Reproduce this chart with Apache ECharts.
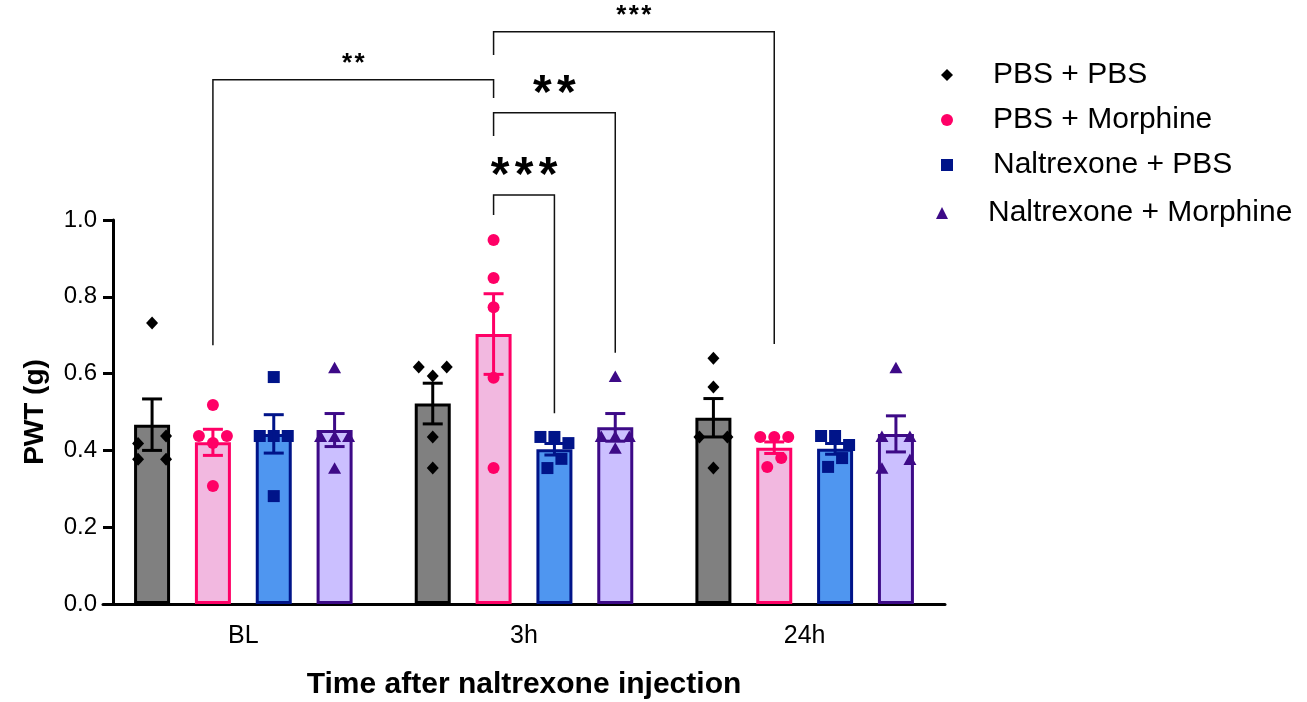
<!DOCTYPE html>
<html>
<head>
<meta charset="utf-8">
<script src="https://cdn.jsdelivr.net/npm/echarts@6/dist/echarts.min.js"></script>
<style>html,body{margin:0;padding:0;background:#fff}#chart{width:1307px;height:702px}</style>
</head>
<body>
<div id="chart"></div>
<script>
// ---------------- data ----------------
const categories = ['BL', '3h', '24h'];
const groupNames = ['PBS + PBS', 'PBS + Morphine', 'Naltrexone + PBS', 'Naltrexone + Morphine'];
const yTickValues = [0, 0.2, 0.4, 0.6, 0.8, 1.0];

// bar heights (mean) per category
const meanPbsPbs = [0.467, 0.522, 0.485];
const meanPbsMor = [0.421, 0.703, 0.407];
const meanNalPbs = [0.443, 0.403, 0.404];
const meanNalMor = [0.453, 0.460, 0.443];

// SEM per category
const semPbsPbs = [0.067, 0.053, 0.050];
const semPbsMor = [0.034, 0.105, 0.015];
const semNalPbs = [0.050, 0.015, 0.014];
const semNalMor = [0.043, 0.036, 0.047];

// individual animals per category
const ptsPbsPbs = [[0.732, 0.418, 0.4375, 0.377, 0.377], [0.617, 0.594, 0.617, 0.435, 0.354], [0.64, 0.565, 0.435, 0.435, 0.354]];
const ptsPbsMor = [[0.518, 0.4375, 0.419, 0.4375, 0.307], [0.948, 0.849, 0.773, 0.589, 0.354], [0.435, 0.435, 0.435, 0.357, 0.38]];
const ptsNalPbs = [[0.591, 0.4375, 0.4375, 0.4375, 0.281], [0.435, 0.435, 0.419, 0.354, 0.378], [0.4375, 0.4375, 0.414, 0.357, 0.38]];
const ptsNalMor = [[0.614, 0.435, 0.435, 0.435, 0.352], [0.591, 0.435, 0.435, 0.435, 0.404], [0.614, 0.435, 0.352, 0.435, 0.375]];

// significance brackets: [category, group] ends, bracket level, end levels, label
const brackets = [
  { from: [0, 1], to: [1, 1], level: 1.365, fromEnd: 0.674, toEnd: 1.318, label: '**', big: false },
  { from: [1, 1], to: [2, 1], level: 1.490, fromEnd: 1.430, toEnd: 0.677, label: '***', big: false },
  { from: [1, 1], to: [1, 3], level: 1.279, fromEnd: 1.219, toEnd: 0.654, label: '**', big: true },
  { from: [1, 1], to: [1, 2], level: 1.065, fromEnd: 1.013, toEnd: 0.497, label: '***', big: true }
];

// ---------------- style ----------------
const means = [meanPbsPbs, meanPbsMor, meanNalPbs, meanNalMor];
const sems = [semPbsPbs, semPbsMor, semNalPbs, semNalMor];
const points = [ptsPbsPbs, ptsPbsMor, ptsNalPbs, ptsNalMor];
const barFill = ['#808080', '#F2B8E0', '#4F96F0', '#CBBFFF'];
const barEdge = ['#000000', '#FF0066', '#001489', '#3D0A87'];
const ptColor = ['#000000', '#FF0066', '#001489', '#3D0A87'];
const symbols = ['diamond', 'circle', 'rect', 'triangle'];
const FONT = '"Liberation Sans", Arial, Helvetica, sans-serif';
const BAR_WIDTH = 36;
const BAR_GAP = 0.69;
const HALF_STEP = 7;        // px, half of the horizontal spacing of side-by-side dots
const ROW_TOL = 0.028;      // values closer than this share a row
const NEIGHBOR_TOL = 0.0625;

function barOffset(k) {
  return (k - (groupNames.length - 1) / 2) * BAR_WIDTH * (1 + BAR_GAP);
}

// lay out dots of one column: dots with nearly equal values share a row
function layoutSlots(vals) {
  const idx = vals.map((v, i) => i).sort((a, b) => vals[b] - vals[a]);
  const clusters = [];
  let cur = [idx[0]];
  for (let j = 1; j < idx.length; j++) {
    if (vals[idx[j - 1]] - vals[idx[j]] < ROW_TOL) cur.push(idx[j]);
    else { clusters.push(cur); cur = [idx[j]]; }
  }
  clusters.push(cur);
  const slots = new Array(vals.length).fill(0);
  const gap = (a, b) => Math.min(...a.flatMap(i => b.map(j => Math.abs(vals[i] - vals[j]))));
  clusters.forEach((c, ci) => {
    c.sort((a, b) => a - b);
    const n = c.length;
    if (n === 2) {
      const nb = [clusters[ci - 1], clusters[ci + 1]].filter(Boolean);
      const inter = nb.some(o => o.length >= 3 && o.length % 2 === 1 && gap(o, c) < NEIGHBOR_TOL);
      const step = inter ? 1 : 2;
      slots[c[0]] = -step; slots[c[1]] = step;
    } else {
      c.forEach((i, j) => { slots[i] = (j - (n - 1) / 2) * 2; });
    }
  });
  return slots;
}

function markerShape(sym, x, y, color) {
  const style = { fill: color, stroke: null };
  if (sym === 'circle') return { type: 'circle', shape: { cx: x, cy: y, r: 6 }, style };
  if (sym === 'rect') return { type: 'rect', shape: { x: x - 6, y: y - 6, width: 12, height: 12 }, style };
  if (sym === 'diamond') return { type: 'polygon', shape: { points: [[x, y - 6.5], [x + 6, y], [x, y + 6.5], [x - 6, y]] }, style };
  return { type: 'polygon', shape: { points: [[x, y - 6.5], [x + 6.5, y + 5], [x - 6.5, y + 5]] }, style };
}

const series = [];

// bars
groupNames.forEach((g, k) => {
  series.push({
    type: 'bar', name: g + ' bar', data: means[k], barWidth: BAR_WIDTH, barGap: (BAR_GAP * 100) + '%',
    itemStyle: { color: barFill[k], borderColor: barEdge[k], borderWidth: 3 },
    z: 2, silent: true, animation: false
  });
});

// dots
groupNames.forEach((g, k) => {
  const data = [];
  categories.forEach((c, ci) => {
    const vals = points[k][ci];
    const slots = layoutSlots(vals);
    vals.forEach((v, j) => data.push([ci, v, slots[j]]));
  });
  series.push({
    type: 'custom', name: g, data, z: 4, animation: false,
    itemStyle: { color: ptColor[k] },
    encode: { x: 0, y: 1 },
    renderItem: (params, api) => {
      const p = api.coord([api.value(0), api.value(1)]);
      return markerShape(symbols[k], p[0] + barOffset(k) + api.value(2) * HALF_STEP, p[1], ptColor[k]);
    }
  });
});

// error bars (mean ± SEM)
groupNames.forEach((g, k) => {
  series.push({
    type: 'custom', name: g + ' sem', z: 5, animation: false, silent: true,
    data: categories.map((c, ci) => [ci, means[k][ci], sems[k][ci]]),
    encode: { x: 0, y: 1 },
    renderItem: (params, api) => {
      const ci = api.value(0), m = api.value(1), s = api.value(2);
      const top = api.coord([ci, m + s]), bot = api.coord([ci, m - s]);
      const x = top[0] + barOffset(k);
      const st = { stroke: barEdge[k], lineWidth: 3 };
      return {
        type: 'group', children: [
          { type: 'line', shape: { x1: x, y1: top[1], x2: x, y2: bot[1] }, style: st },
          { type: 'line', shape: { x1: x - 10, y1: top[1], x2: x + 10, y2: top[1] }, style: st },
          { type: 'line', shape: { x1: x - 10, y1: bot[1], x2: x + 10, y2: bot[1] }, style: st }
        ]
      };
    }
  });
});

// significance brackets
series.push({
  type: 'custom', name: 'brackets', z: 6, animation: false, silent: true, clip: false,
  data: brackets.map(b => [b.from[0], b.level]),
  encode: { x: 0, y: 1 },
  renderItem: (params, api) => {
    const b = brackets[params.dataIndex];
    const xa = api.coord([b.from[0], 0])[0] + barOffset(b.from[1]);
    const xb = api.coord([b.to[0], 0])[0] + barOffset(b.to[1]);
    const yl = api.coord([b.from[0], b.level])[1];
    const ya = api.coord([b.from[0], b.fromEnd])[1];
    const yb = api.coord([b.to[0], b.toEnd])[1];
    const children = [{
      type: 'polyline', shape: { points: [[xa, ya], [xa, yl], [xb, yl], [xb, yb]] },
      style: { stroke: '#111', lineWidth: 1.5, fill: null }
    }];
    const n = b.label.length;
    const sp = b.big ? 24 : 12.5;
    const fs = b.big ? 48 : 26;
    const gap = b.big ? 18 : 16;
    const cx = (xa + xb) / 2;
    for (let i = 0; i < n; i++) {
      children.push({
        type: 'text', style: {
          text: b.label[i], x: cx + (i - (n - 1) / 2) * sp, y: yl - gap,
          font: 'bold ' + fs + 'px ' + FONT, fill: '#000', align: 'center', verticalAlign: 'middle'
        }
      });
    }
    return { type: 'group', children };
  }
});

const legendText = { fontSize: 30, fontFamily: FONT, color: '#000', lineHeight: 34, padding: [0, 0, 0, 35] };
const legendItem = (k) => ({ name: groupNames[k], icon: symbols[k], itemStyle: { color: ptColor[k], borderWidth: 0 } });

const option = {
  animation: false,
  backgroundColor: '#fff',
  grid: { left: 103, right: 362, top: 220, bottom: 98, containLabel: false, outerBoundsMode: 'none' },
  legend: [
    { data: [0, 1, 2].map(legendItem), orient: 'vertical', left: 936, top: 53, itemWidth: 12, itemHeight: 12, itemGap: 11, textStyle: legendText, selectedMode: false },
    { data: [3].map(legendItem), orient: 'vertical', left: 931, top: 191, itemWidth: 12, itemHeight: 12, itemGap: 11, textStyle: legendText, selectedMode: false }
  ],
  xAxis: {
    type: 'category', data: categories,
    axisLine: { lineStyle: { color: '#000', width: 3 } },
    axisTick: { alignWithLabel: true, length: 10, lineStyle: { color: '#000', width: 3 } },
    axisLabel: { fontSize: 25, fontFamily: FONT, color: '#000', margin: 20 },
    name: 'Time after naltrexone injection', nameLocation: 'middle', nameGap: 66,
    nameTextStyle: { fontSize: 30, fontWeight: 'bold', fontFamily: FONT, color: '#000' }
  },
  yAxis: {
    type: 'value', min: yTickValues[0], max: yTickValues[yTickValues.length - 1], interval: 0.2,
    offset: -10,
    axisLine: { show: true, lineStyle: { color: '#000', width: 3 } },
    axisTick: { show: true, length: 10, lineStyle: { color: '#000', width: 3 } },
    axisLabel: { fontSize: 24, fontFamily: FONT, color: '#000', margin: 16, formatter: v => v.toFixed(1) },
    splitLine: { show: false },
    name: 'PWT (g)', nameLocation: 'middle', nameGap: 64,
    nameTextStyle: { fontSize: 28, fontWeight: 'bold', fontFamily: FONT, color: '#000' }
  },
  series
};

const chart = echarts.init(document.getElementById('chart'), null, { renderer: 'canvas' });
chart.setOption(option);
</script>
</body>
</html>
